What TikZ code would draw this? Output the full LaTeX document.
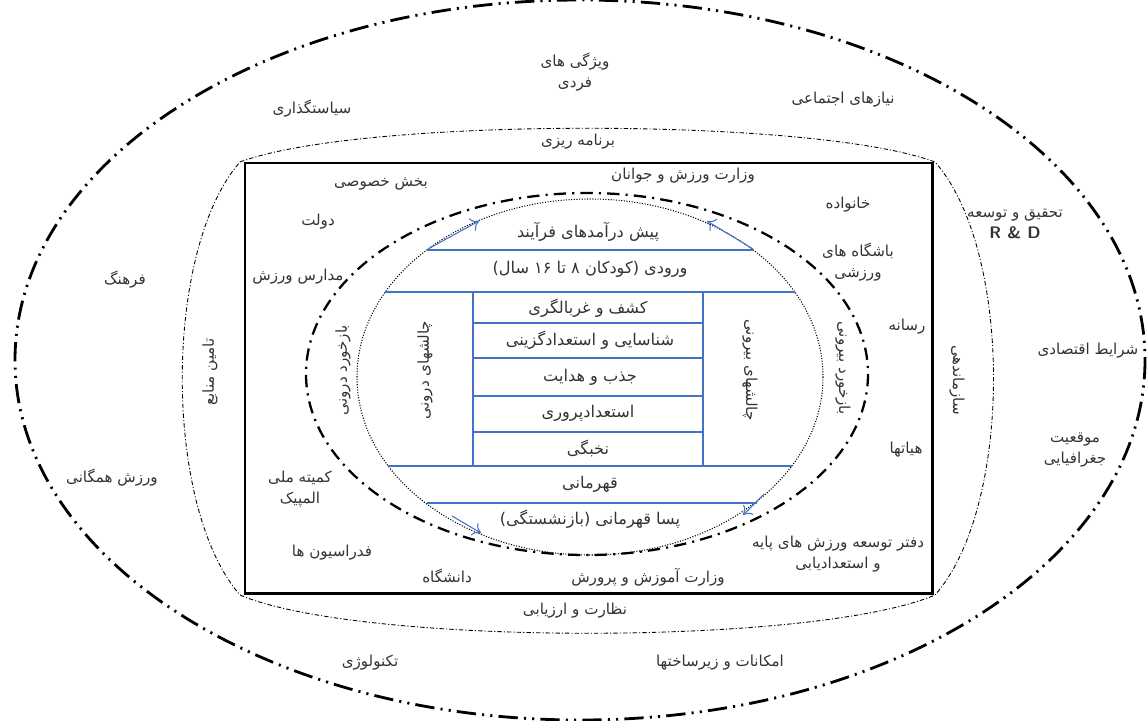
\documentclass[tikz,border=0pt]{standalone}
\usepackage{fontspec}
\newfontfamily\farsi[Script=Arabic]{DejaVu Sans}
\TeXXeTstate=1
\usepackage{tikz}
\usetikzlibrary{positioning,arrows.meta}
\newcommand{\fa}[1]{\beginR #1\endR}
\definecolor{flowblue}{RGB}{68,114,196}
\tikzstyle{lbl}=[font=\farsi\fontsize{8.6}{12}\selectfont, text=black!80, align=center, inner sep=1pt]
\tikzstyle{stage}=[lbl, font=\farsi\fontsize{9.2}{12}\selectfont]
\tikzstyle{flow}=[draw=flowblue, line width=0.6pt]
\tikzstyle{fback}=[flow, -{To[length=4.5pt,width=8pt]}]
\tikzstyle{outerring}=[line width=1.6pt, dash pattern=on 11pt off 3.5pt on 1.2pt off 3.5pt on 1.2pt off 3.5pt]
\tikzstyle{innerring}=[line width=1.3pt, dash pattern=on 7pt off 3.5pt on 1.2pt off 3.5pt]
\tikzstyle{barrel}=[line width=0.5pt, dash pattern=on 2.5pt off 1.2pt on 0.6pt off 1.2pt]
\tikzstyle{dotring}=[line width=0.6pt, dash pattern=on 0.6pt off 0.9pt]

\begin{document}
\begin{tikzpicture}[x=0.02cm,y=-0.02cm]
\useasboundingbox (0,0) rectangle (1148,720);

% rings
\draw[outerring] (580,360) ellipse [x radius=565, y radius=360];
\draw[barrel] (240,162) .. controls (360,117) and (815,117) .. (935,162)
  .. controls (1013,250) and (1013,507) .. (935,595)
  .. controls (815,646) and (360,646) .. (240,595)
  .. controls (163,507) and (163,250) .. cycle;
\draw[line width=1.7pt] (245,163) rectangle (932,593);
\draw[innerring] (587,374) ellipse [x radius=281, y radius=181];
\draw[dotring] (590,377) ellipse [x radius=233, y radius=178];

% process table
\draw[flow] (427,250) -- (753,250);
\draw[flow] (385,292) -- (795,292);
\draw[flow] (388,466) -- (792,466);
\draw[flow] (427,503) -- (757,503);
\draw[flow] (473,292) -- (473,466);
\draw[flow] (703,292) -- (703,466);
\foreach \y in {323,358,396,432}
  \draw[flow] (473,\y) -- (703,\y);

\node[stage] (pre) at (588,232) {\fa{پیش درآمدهای فرآیند}};
\node[stage] (input) at (590,269) {\fa{ورودی (کودکان ۸ تا ۱۶ سال)}};
\node[stage] (kashf) at (588,308) {\fa{کشف و غربالگری}};
\node[stage] (shenasaei) at (590,340) {\fa{شناسایی و استعدادگزینی}};
\node[stage] (jazb) at (590,377) {\fa{جذب و هدایت}};
\node[stage] (parvari) at (588,413) {\fa{استعدادپروری}};
\node[stage] (nokhbegi) at (588,448) {\fa{نخبگی}};
\node[stage] (ghahremani) at (590,484) {\fa{قهرمانی}};
\node[stage] (pasa) at (590,519) {\fa{پسا قهرمانی (بازنشستگی)}};

\node[lbl, rotate=90] (chaldarun) at (425,370) {\fa{چالشهای درونی}};
\node[lbl, rotate=-90] (chalbirun) at (750,370) {\fa{چالشهای بیرونی}};
\node[lbl, rotate=90] (bazdarun) at (343,370) {\fa{بازخورد درونی}};
\node[lbl, rotate=-90] (bazbirun) at (843,368) {\fa{بازخورد بیرونی}};

% feedback arrows
\coordinate (tl1) at (428,249); \coordinate (tl2) at (479,221);
\coordinate (tr1) at (753,249); \coordinate (tr2) at (707,221);
\coordinate (bl1) at (452,516); \coordinate (bl2) at (481,533);
\coordinate (br1) at (764,494); \coordinate (br2) at (743,515);
\draw[fback] (tl1) -- (tl2);
\draw[fback] (tr1) -- (tr2);
\draw[fback] (bl1) -- (bl2);
\draw[fback] (br1) -- (br2);

% actors inside the frame
\node[lbl] (khosusi) at (381,184) {\fa{بخش خصوصی}};
\node[lbl] (vezarat) at (683,176) {\fa{وزارت ورزش و جوانان}};
\node[lbl] (dolat) at (318,222) {\fa{دولت}};
\node[lbl] (khanevade) at (848,205) {\fa{خانواده}};
\node[lbl] (madares) at (298,277) {\fa{مدارس ورزش}};
\node[lbl] (bashgah) at (858,262) {\fa{باشگاه های}\\\fa{ورزشی}};
\node[lbl] (resane) at (907,327) {\fa{رسانه}};
\node[lbl] (heyat) at (906,450) {\fa{هیاتها}};
\node[lbl] (komite) at (300,489) {\fa{کمیته ملی}\\\fa{المپیک}};
\node[lbl] (federasion) at (332,553) {\fa{فدراسیون ها}};
\node[lbl] (daneshgah) at (447,576) {\fa{دانشگاه}};
\node[lbl] (amoozesh) at (648,577) {\fa{وزارت آموزش و پرورش}};
\node[lbl] (daftar) at (838,554) {\fa{دفتر توسعه ورزش های پایه}\\\fa{و استعدادیابی}};

% management functions
\node[lbl] (barname) at (578,142) {\fa{برنامه ریزی}};
\node[lbl] (nezarat) at (575,611) {\fa{نظارت و ارزیابی}};
\node[lbl, rotate=90] (tamin) at (210,372) {\fa{تامین منابع}};
\node[lbl, rotate=-90] (sazmandehi) at (957,380) {\fa{سازماندهی}};

% environment
\node[lbl] (vizhegi) at (575,72) {\fa{ویژگی های}\\\fa{فردی}};
\node[lbl] (siasat) at (312,109) {\fa{سیاستگذاری}};
\node[lbl] (niaz) at (843,100) {\fa{نیازهای اجتماعی}};
\node[lbl] (farhang) at (125,280) {\fa{فرهنگ}};
\node[lbl] (hamegani) at (112,478) {\fa{ورزش همگانی}};
\node[lbl] (tahghigh) at (1015,224) {\fa{تحقیق و توسعه}\\{\sffamily\bfseries\fontsize{9.5}{12}\selectfont R \& D}};
\node[lbl] (eghtesadi) at (1088,351) {\fa{شرایط اقتصادی}};
\node[lbl] (mogheiat) at (1075,450) {\fa{موقعیت}\\\fa{جغرافیایی}};
\node[lbl] (teknoloji) at (370,663) {\fa{تکنولوژی}};
\node[lbl] (emkanat) at (720,663) {\fa{امکانات و زیرساختها}};
\end{tikzpicture}
\end{document}
